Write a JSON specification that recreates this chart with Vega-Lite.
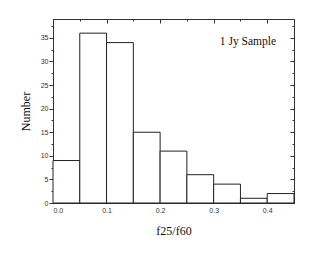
{
  "$schema": "https://vega.github.io/schema/vega-lite/v6.json",
  "width": 241,
  "height": 184,
  "autosize": "none",
  "padding": {"left": 53, "top": 19, "right": 19, "bottom": 52},
  "background": "white",
  "config": {"view": {"stroke": "#333", "strokeWidth": 1}, "axis": {"grid": false, "domainColor": "#333", "tickColor": "#333", "labelFont": "Liberation Sans", "labelFontSize": 7, "labelColor": "#333", "titleFont": "Liberation Serif", "titleFontWeight": "normal", "titleFontSize": 12, "titleColor": "#111"}},
  "datasets": {
    "bins": [
      {"lo": 0.0, "hi": 0.05, "n": 9},
      {"lo": 0.05, "hi": 0.1, "n": 36},
      {"lo": 0.1, "hi": 0.15, "n": 34},
      {"lo": 0.15, "hi": 0.2, "n": 15},
      {"lo": 0.2, "hi": 0.25, "n": 11},
      {"lo": 0.25, "hi": 0.3, "n": 6},
      {"lo": 0.3, "hi": 0.35, "n": 4},
      {"lo": 0.35, "hi": 0.4, "n": 1},
      {"lo": 0.4, "hi": 0.45, "n": 2}
    ],
    "label": [{"x": 0.364, "y": 34.1, "t": "1 Jy Sample"}]
  },
  "layer": [
    {
      "data": {"name": "bins"},
      "mark": {"type": "rect", "fill": "white", "stroke": "#222", "strokeWidth": 1},
      "encoding": {
        "x": {"field": "lo", "type": "quantitative", "scale": {"domain": [0, 0.45], "nice": false, "zero": false},
          "axis": {"orient": "bottom", "title": "f25/f60", "titlePadding": 12, "values": [0, 0.05, 0.1, 0.15, 0.2, 0.25, 0.3, 0.35, 0.4, 0.45],
            "labelExpr": "abs(datum.value*10 - round(datum.value*10)) < 0.01 ? format(datum.value, '.1f') : ''",
            "tickSize": {"condition": {"test": "abs(datum.value*10 - round(datum.value*10)) < 0.01", "value": -4}, "value": -2},
            "labelPadding": 7}},
        "x2": {"field": "hi"},
        "y": {"field": "n", "type": "quantitative", "scale": {"domain": [0, 39], "nice": false},
          "axis": {"orient": "left", "title": "Number", "titlePadding": 8, "values": [0, 2.5, 5, 7.5, 10, 12.5, 15, 17.5, 20, 22.5, 25, 27.5, 30, 32.5, 35, 37.5],
            "labelExpr": "datum.value % 5 == 0 ? format(datum.value, 'd') : ''",
            "tickSize": {"condition": {"test": "datum.value % 5 == 0", "value": 4}, "value": 2},
            "labelPadding": 1}},
        "y2": {"datum": 0}
      }
    },
    {
      "data": {"name": "bins"},
      "mark": {"type": "point", "opacity": 0},
      "encoding": {
        "x": {"field": "lo", "type": "quantitative", "scale": {"domain": [0, 0.45], "nice": false, "zero": false},
          "axis": {"orient": "top", "title": null, "labels": false, "values": [0, 0.05, 0.1, 0.15, 0.2, 0.25, 0.3, 0.35, 0.4, 0.45],
            "tickSize": {"condition": {"test": "abs(datum.value*10 - round(datum.value*10)) < 0.01", "value": -4}, "value": -2}}},
        "y": {"field": "n", "type": "quantitative", "scale": {"domain": [0, 39], "nice": false},
          "axis": {"orient": "right", "title": null, "labels": false, "values": [0, 2.5, 5, 7.5, 10, 12.5, 15, 17.5, 20, 22.5, 25, 27.5, 30, 32.5, 35, 37.5],
            "tickSize": {"condition": {"test": "datum.value % 5 == 0", "value": -4}, "value": -2}}}
      }
    },
    {
      "data": {"name": "label"},
      "mark": {"type": "text", "font": "Liberation Serif", "fontSize": 11.5, "color": "#111"},
      "encoding": {
        "x": {"field": "x", "type": "quantitative", "axis": null},
        "y": {"field": "y", "type": "quantitative", "axis": null},
        "text": {"field": "t"}
      }
    }
  ],
  "resolve": {"axis": {"x": "independent", "y": "independent"}}
}
